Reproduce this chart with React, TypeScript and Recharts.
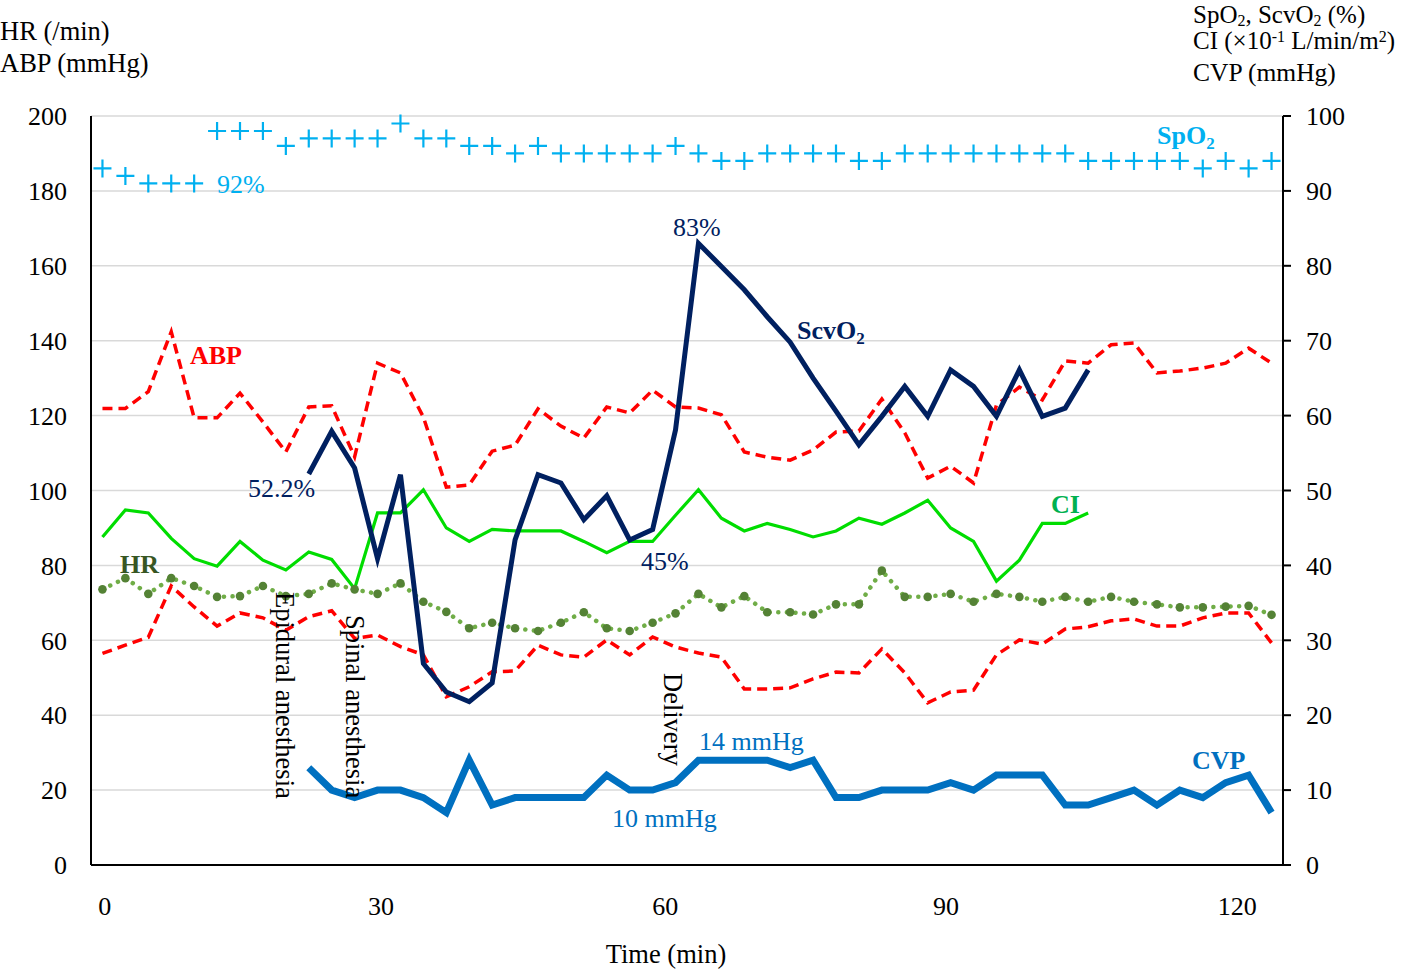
import React from "react";
import { LineChart, Line, XAxis, YAxis, CartesianGrid } from "recharts";

const FONT = "'Times New Roman', 'Liberation Serif', serif";

// sample index (one sample per recorded point)
const abpSys = [121.9,121.9,126.4,142.4,119.4,119.4,126.0,118.3,110.3,122.3,122.6,109.0,134.0,131.4,119.6,100.9,101.5,110.5,112.1,121.8,117.2,114.0,122.3,120.7,126.8,122.3,122.0,120.2,110.3,108.9,108.1,110.8,115.6,115.9,124.4,115.4,103.3,106.5,102.0,122.8,127.6,124.2,134.6,134.0,138.9,139.4,131.4,131.9,132.7,134.0,138.0,134.0];
const abpDia = [56.5,58.7,60.8,74.5,68.9,63.8,67.3,66.0,62.7,66.3,67.9,60.5,61.4,58.3,56.1,44.9,47.6,51.6,51.8,58.7,56.1,55.5,60.1,56.1,60.9,58.2,56.6,55.5,47.0,47.0,47.3,49.7,51.5,51.3,57.7,51.3,43.3,46.2,46.7,56.1,60.1,59.0,63.0,63.6,65.2,65.7,63.8,63.8,66.0,67.3,67.3,59.3];
const hr = [73.6,76.6,72.4,76.6,74.5,71.6,71.8,74.5,71.8,72.4,75.2,73.6,72.4,75.2,70.3,67.6,63.2,64.7,63.2,62.5,64.7,67.5,63.2,62.5,64.7,67.2,72.4,68.8,71.8,67.5,67.5,66.9,69.6,69.6,78.6,71.6,71.6,72.4,70.3,72.4,71.6,70.3,71.6,70.3,71.6,70.3,69.6,68.8,68.8,69.0,69.2,66.8];
const ci = [43.8,47.4,47.0,43.6,40.9,39.9,43.2,40.7,39.4,41.8,40.8,36.9,47.0,47.0,50.1,45.0,43.2,44.8,44.6,44.6,44.6,43.2,41.7,43.2,43.2,46.7,50.1,46.3,44.6,45.6,44.8,43.8,44.6,46.3,45.5,47.0,48.7,45.0,43.2,37.9,40.7,45.6,45.6,47.0,null,null,null,null,null,null,null,null];
const scvo2 = [null,null,null,null,null,null,null,null,null,52.2,57.9,53.0,40.9,52.1,26.9,23.1,21.8,24.3,43.4,52.1,51.0,46.1,49.3,43.4,44.8,58.1,83.0,79.9,76.8,73.2,69.8,65.0,60.6,56.1,59.9,63.9,59.9,66.1,63.9,59.9,66.1,59.9,61.0,66.1,null,null,null,null,null,null,null,null];
const cvp = [null,null,null,null,null,null,null,null,null,13,10,9,10,10,9,7,14,8,9,9,9,9,12,10,10,11,14,14,14,14,13,14,9,9,10,10,10,11,10,12,12,12,8,8,9,10,8,10,9,11,12,7];
const spo2 = [93,92,91,91,91,98,98,98,96,97,97,97,97,99,97,97,96,96,95,96,95,95,95,95,95,96,95,94,94,95,95,95,95,94,94,95,95,95,95,95,95,95,95,94,94,94,94,94,93,94,93,94];

// time axis labels and the sample positions where they sit
const timeLabels = ["0", "30", "60", "90", "120"];
const timeTickIdx = [0.1, 12.15, 24.55, 36.8, 49.5];

const leftTicks = [0, 20, 40, 60, 80, 100, 120, 140, 160, 180, 200];
const rightTicks = [0, 10, 20, 30, 40, 50, 60, 70, 80, 90, 100];

const rows = spo2.map((_, i) => ({
  i,
  abpSys: abpSys[i],
  abpDia: abpDia[i],
  hr: hr[i],
  ci: ci[i],
  scvo2: scvo2[i],
  cvp: cvp[i],
  spo2: spo2[i],
}));

const renderCross = (p: any) => {
  const { cx, cy, index } = p;
  if (cx == null || cy == null) return <g key={"c" + index} />;
  return (
    <path
      key={"c" + index}
      d={`M${cx - 9},${cy}H${cx + 9}M${cx},${cy - 9}V${cy + 9}`}
      stroke="#00B0F0"
      strokeWidth={2.2}
      fill="none"
    />
  );
};

const renderHrDot = (p: any) => {
  const { cx, cy, index } = p;
  if (cx == null || cy == null) return <g key={"h" + index} />;
  return <circle key={"h" + index} cx={cx} cy={cy} r={4.3} fill="#548235" stroke="none" />;
};

const tickStyle = { fill: "#000", fontSize: 26, fontFamily: FONT };

export default function App() {
  return (
    <div style={{ position: "absolute", left: 0, top: 0, width: 1418, height: 969, background: "#fff" }}>
      <LineChart
        width={1418}
        height={969}
        data={rows}
        margin={{ top: 116, right: 0, bottom: 0, left: 0 }}
      >
        <CartesianGrid yAxisId="left" vertical={false} stroke="#D9D9D9" strokeWidth={1.5} />
        <XAxis
          dataKey="i"
          type="number"
          domain={[-0.5, 51.5]}
          allowDataOverflow
          ticks={timeTickIdx}
          tickFormatter={(v: number) => timeLabels[timeTickIdx.indexOf(v)] ?? ""}
          height={104}
          axisLine={{ stroke: "#000", strokeWidth: 2 }}
          tickLine={false}
          tickSize={6}
          tickMargin={26}
          tick={tickStyle}
          interval={0}
        />
        <YAxis
          yAxisId="left"
          orientation="left"
          width={91}
          domain={[0, 200]}
          ticks={leftTicks}
          interval={0}
          axisLine={{ stroke: "#000", strokeWidth: 2 }}
          tickLine={false}
          tickSize={6}
          tickMargin={18}
          tick={tickStyle}
        />
        <YAxis
          yAxisId="right"
          orientation="right"
          width={135}
          domain={[0, 100]}
          ticks={rightTicks}
          interval={0}
          axisLine={{ stroke: "#000", strokeWidth: 2 }}
          tickLine={{ stroke: "#000", strokeWidth: 2 }}
          tickSize={8}
          tickMargin={15}
          tick={tickStyle}
        />
        <Line yAxisId="left" dataKey="abpSys" stroke="#FF0000" strokeWidth={3.5} strokeDasharray="10 6" dot={false} isAnimationActive={false} />
        <Line yAxisId="left" dataKey="abpDia" stroke="#FF0000" strokeWidth={3.5} strokeDasharray="10 6" dot={false} isAnimationActive={false} />
        <Line yAxisId="left" dataKey="hr" stroke="#70AD47" strokeWidth={4.5} strokeDasharray="0.1 8.5" strokeLinecap="round" dot={renderHrDot} isAnimationActive={false} />
        <Line yAxisId="right" dataKey="ci" stroke="#00DD00" strokeWidth={3.2} dot={false} isAnimationActive={false} />
        <Line yAxisId="right" dataKey="cvp" stroke="#0070C0" strokeWidth={7} dot={false} isAnimationActive={false} />
        <Line yAxisId="right" dataKey="scvo2" stroke="#002060" strokeWidth={5} dot={false} isAnimationActive={false} />
        <Line yAxisId="right" dataKey="spo2" stroke="none" strokeWidth={0} dot={renderCross} activeDot={false} isAnimationActive={false} />
      </LineChart>
      <svg
        width={1418}
        height={969}
        style={{ position: "absolute", left: 0, top: 0, pointerEvents: "none" }}
        fontFamily={FONT}
        fontSize={26}
      >
        <text x={0} y={40} fill="#000" fontSize={26.5}>HR (/min)</text>
        <text x={0} y={72} fill="#000" fontSize={26.5}>ABP (mmHg)</text>
        <text x={1193} y={23} fill="#000" fontSize={25}>
          SpO<tspan dy={3} fontSize={16}>2</tspan><tspan dy={-3}>, ScvO</tspan><tspan dy={3} fontSize={16}>2</tspan><tspan dy={-3}> (%)</tspan>
        </text>
        <text x={1193} y={49} fill="#000" fontSize={25}>
          CI (×10<tspan dy={-7} fontSize={16}>-1</tspan><tspan dy={7}> L/min/m</tspan><tspan dy={-7} fontSize={16}>2</tspan><tspan dy={7}>)</tspan>
        </text>
        <text x={1193} y={81} fill="#000" fontSize={25.5}>CVP (mmHg)</text>
        <text x={666} y={963} textAnchor="middle" fill="#000" fontSize={26.5}>Time (min)</text>

        <text x={1157} y={144} fill="#00B0F0" fontWeight="bold">
          SpO<tspan dy={5} fontSize={17}>2</tspan>
        </text>
        <text x={217} y={193} fill="#00B0F0">92%</text>
        <text x={673} y={236} fill="#002060">83%</text>
        <text x={797} y={339} fill="#002060" fontWeight="bold">
          ScvO<tspan dy={5} fontSize={17}>2</tspan>
        </text>
        <text x={248} y={497} fill="#002060">52.2%</text>
        <text x={641} y={570} fill="#002060">45%</text>
        <text x={190} y={364} fill="#FF0000" fontWeight="bold">ABP</text>
        <text x={1051} y={513} fill="#00B050" fontWeight="bold">CI</text>
        <text x={120} y={573} fill="#375623" fontWeight="bold">HR</text>
        <text x={1192} y={769} fill="#0070C0" fontWeight="bold">CVP</text>
        <text x={699} y={750} fill="#0070C0">14 mmHg</text>
        <text x={612} y={827} fill="#0070C0">10 mmHg</text>

        <text x={276} y={592} fill="#000" fontSize={26.5} transform="rotate(90 276 592)">Epidural anesthesia</text>
        <text x={346} y={615} fill="#000" fontSize={26.5} transform="rotate(90 346 615)">Spinal anesthesia</text>
        <text x={664} y={673} fill="#000" fontSize={26.5} transform="rotate(90 664 673)">Delivery</text>
      </svg>
    </div>
  );
}
